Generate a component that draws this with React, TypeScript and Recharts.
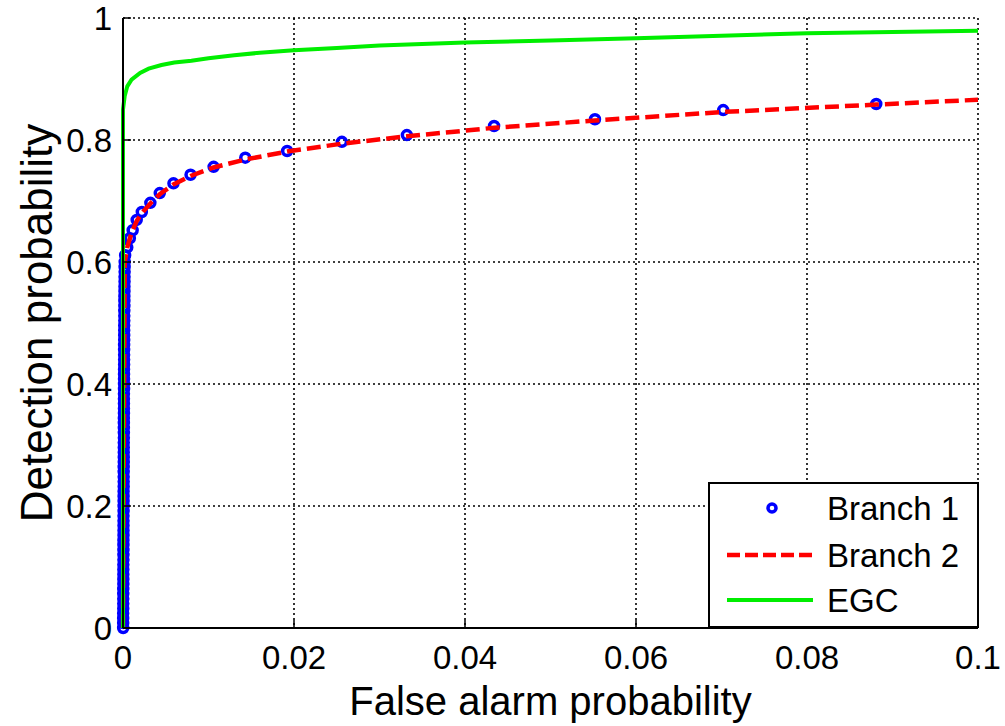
import React from "react";
import {
  ComposedChart,
  Line,
  Scatter,
  XAxis,
  YAxis,
  CartesianGrid,
  Legend,
} from "recharts";

const FONT = "'Liberation Sans', Arial, sans-serif";

// axis ticks
const xTicks = [0, 0.02, 0.04, 0.06, 0.08, 0.1];
const yTicks = [0, 0.2, 0.4, 0.6, 0.8, 1];

// Branch 1 (markers) - dense stack at Pf ~ 0, then the ROC knee
const branch1X = [
  0.00002, 0.00002, 0.00002, 0.00002, 0.00003, 0.00003, 0.00003, 0.00003, 0.00003, 0.00004,
  0.00004, 0.00004, 0.00004, 0.00004, 0.00005, 0.00005, 0.00005, 0.00005, 0.00005, 0.00006,
  0.00006, 0.00006, 0.00006, 0.00006, 0.00007, 0.00007, 0.00007, 0.00007, 0.00007, 0.00008,
  0.00008, 0.00008, 0.00008, 0.00008, 0.00009, 0.00009, 0.00009, 0.00009, 0.00009, 0.0001,
  0.0001, 0.0001, 0.0001, 0.0001, 0.00011, 0.00011, 0.00011, 0.00011, 0.00011, 0.00012,
  0.00012, 0.00012, 0.00012, 0.00012, 0.00013, 0.00013, 0.00013, 0.00013, 0.00013, 0.00014,
  0.00014, 0.00014, 0.00014, 0.00015, 0.00015, 0.00015, 0.00016, 0.00016, 0.00016, 0.00017,
  0.00017, 0.00018, 0.00018, 0.00019, 0.00019, 0.0002,
  0.00025, 0.0005, 0.0008, 0.00113, 0.0016, 0.0022, 0.0032, 0.0043, 0.0059,
  0.0079, 0.0106, 0.0143, 0.0192, 0.0256, 0.0332, 0.0434, 0.0552, 0.0702, 0.0881,
];
const branch1Y = [
  0, 0.008, 0.016, 0.024, 0.032, 0.04, 0.048, 0.056, 0.064, 0.072,
  0.08, 0.088, 0.096, 0.104, 0.112, 0.12, 0.128, 0.136, 0.144, 0.152,
  0.16, 0.168, 0.176, 0.184, 0.192, 0.2, 0.208, 0.216, 0.224, 0.232,
  0.24, 0.248, 0.256, 0.264, 0.272, 0.28, 0.288, 0.296, 0.304, 0.312,
  0.32, 0.328, 0.336, 0.344, 0.352, 0.36, 0.368, 0.376, 0.384, 0.392,
  0.4, 0.408, 0.416, 0.424, 0.432, 0.44, 0.448, 0.456, 0.464, 0.472,
  0.48, 0.488, 0.496, 0.504, 0.512, 0.52, 0.528, 0.536, 0.544, 0.552,
  0.56, 0.568, 0.576, 0.584, 0.592, 0.6,
  0.611, 0.624, 0.639, 0.652, 0.669, 0.682, 0.697, 0.713, 0.729,
  0.743, 0.756, 0.771, 0.782, 0.797, 0.808, 0.823, 0.834, 0.849, 0.859,
];

// Branch 2 (dashed)
const branch2X = [
  0, 0.0001, 0.0002, 0.0005, 0.001, 0.0016, 0.0022, 0.0032, 0.0043, 0.0059, 0.0079,
  0.0106, 0.0143, 0.0192, 0.0256, 0.0332, 0.0434, 0.0552, 0.0702, 0.0881, 0.1,
];
const branch2Y = [
  0, 0.3, 0.6, 0.624, 0.648, 0.667, 0.68, 0.696, 0.711, 0.727, 0.741,
  0.755, 0.768, 0.781, 0.794, 0.806, 0.82, 0.832, 0.846, 0.858, 0.866,
];

// EGC (solid)
const egcX = [
  0, 0, 0.0002, 0.0005, 0.001, 0.002, 0.003, 0.0045, 0.006, 0.008, 0.01, 0.013,
  0.016, 0.02, 0.025, 0.03, 0.04, 0.05, 0.06, 0.07, 0.08, 0.09, 0.1,
];
const egcY = [
  0, 0.85, 0.872, 0.888, 0.899, 0.91, 0.917, 0.923, 0.927, 0.93, 0.934, 0.939,
  0.943, 0.947, 0.951, 0.955, 0.96, 0.963, 0.967, 0.971, 0.975, 0.977, 0.979,
];

const zip = (xs: number[], ys: number[]) => xs.map((x, i) => ({ x, y: ys[i] }));
const branch1 = zip(branch1X, branch1Y);
const branch2 = zip(branch2X, branch2Y);
const egc = zip(egcX, egcY);

const BLUE = "#0000ff";
const RED = "#ff0000";
const GREEN = "#00ee00";

const XTick = (props: any) => {
  const { x, y, payload } = props;
  return (
    <g>
      <line x1={x} y1={y} x2={x} y2={y - 8} stroke="#000" strokeWidth={1.5} />
      <text x={x} y={y + 41} textAnchor="middle" fontSize={33} fontFamily={FONT} fill="#000">
        {String(payload.value)}
      </text>
    </g>
  );
};

const YTick = (props: any) => {
  const { x, y, payload } = props;
  return (
    <g>
      <line x1={x} y1={y} x2={x + 8} y2={y} stroke="#000" strokeWidth={1.5} />
      <text x={x - 11} y={y + 12} textAnchor="end" fontSize={33} fontFamily={FONT} fill="#000">
        {String(payload.value)}
      </text>
    </g>
  );
};

const OpenCircle = (props: any) => {
  const { cx, cy } = props;
  if (cx == null || cy == null) return null;
  return <circle cx={cx} cy={cy} r={4.5} fill="none" stroke={BLUE} strokeWidth={3.5} />;
};

const rowY = [26, 73, 118];

const LegendBox = (props: any) => {
  const items = props.payload || [];
  return (
    <svg width={271} height={146} style={{ display: "block" }}>
      <rect x={1} y={1} width={269} height={144} fill="#fff" stroke="#000" strokeWidth={2} />
      {items.map((entry: any, i: number) => {
        const cy = rowY[i];
        let icon = null;
        if (entry.value === "Branch 1") {
          icon = <circle cx={64} cy={cy} r={4} fill="none" stroke={BLUE} strokeWidth={3.5} />;
        } else if (entry.value === "Branch 2") {
          icon = (
            <line x1={19} y1={cy} x2={105} y2={cy} stroke={RED} strokeWidth={4.5} strokeDasharray="13 5" />
          );
        } else {
          icon = <line x1={19} y1={cy} x2={105} y2={cy} stroke={GREEN} strokeWidth={4} />;
        }
        return (
          <g key={entry.value}>
            {icon}
            <text x={119} y={cy + 12} fontSize={33} fontFamily={FONT} fill="#000">
              {entry.value}
            </text>
          </g>
        );
      })}
    </svg>
  );
};

export default function App() {
  return (
    <div style={{ position: "absolute", left: 0, top: 0, background: "#fff" }}>
      <ComposedChart width={1005} height={726} margin={{ top: 18, right: 27, bottom: 0, left: 0 }}>
        <CartesianGrid stroke="#000" strokeWidth={1.6} strokeDasharray="2 3" />
        <XAxis
          dataKey="x"
          type="number"
          domain={[0, 0.1]}
          ticks={xTicks}
          height={98}
          tickSize={0}
          tickMargin={0}
          tickLine={false}
          tick={<XTick />}
          axisLine={{ stroke: "#000", strokeWidth: 2 }}
          label={{
            value: "False alarm probability",
            position: "insideBottom",
            offset: 11,
            style: { fontSize: 40, fontFamily: FONT, fill: "#000" },
          }}
        />
        <YAxis
          dataKey="y"
          type="number"
          domain={[0, 1]}
          ticks={yTicks}
          width={123}
          tickSize={0}
          tickMargin={0}
          tickLine={false}
          tick={<YTick />}
          axisLine={{ stroke: "#000", strokeWidth: 2 }}
          label={{
            value: "Detection probability",
            angle: -90,
            position: "insideLeft",
            offset: 36,
            style: { fontSize: 44, fontFamily: FONT, fill: "#000", textAnchor: "middle" },
          }}
        />
        <Scatter
          name="Branch 1"
          data={branch1}
          dataKey="y"
          fill={BLUE}
          shape={<OpenCircle />}
          zIndex={350}
          isAnimationActive={false}
        />
        <Line
          name="Branch 2"
          data={branch2}
          dataKey="y"
          type="linear"
          stroke={RED}
          strokeWidth={4.5}
          strokeDasharray="14 6"
          dot={false}
          activeDot={false}
          isAnimationActive={false}
        />
        <Line
          name="EGC"
          data={egc}
          dataKey="y"
          type="linear"
          stroke={GREEN}
          strokeWidth={4}
          dot={false}
          activeDot={false}
          isAnimationActive={false}
        />
        <Legend
          layout="vertical"
          align="center"
          verticalAlign="middle"
          content={<LegendBox />}
          wrapperStyle={{ position: "absolute", left: 708, top: 482, width: 271, height: 146 }}
        />
      </ComposedChart>
    </div>
  );
}
